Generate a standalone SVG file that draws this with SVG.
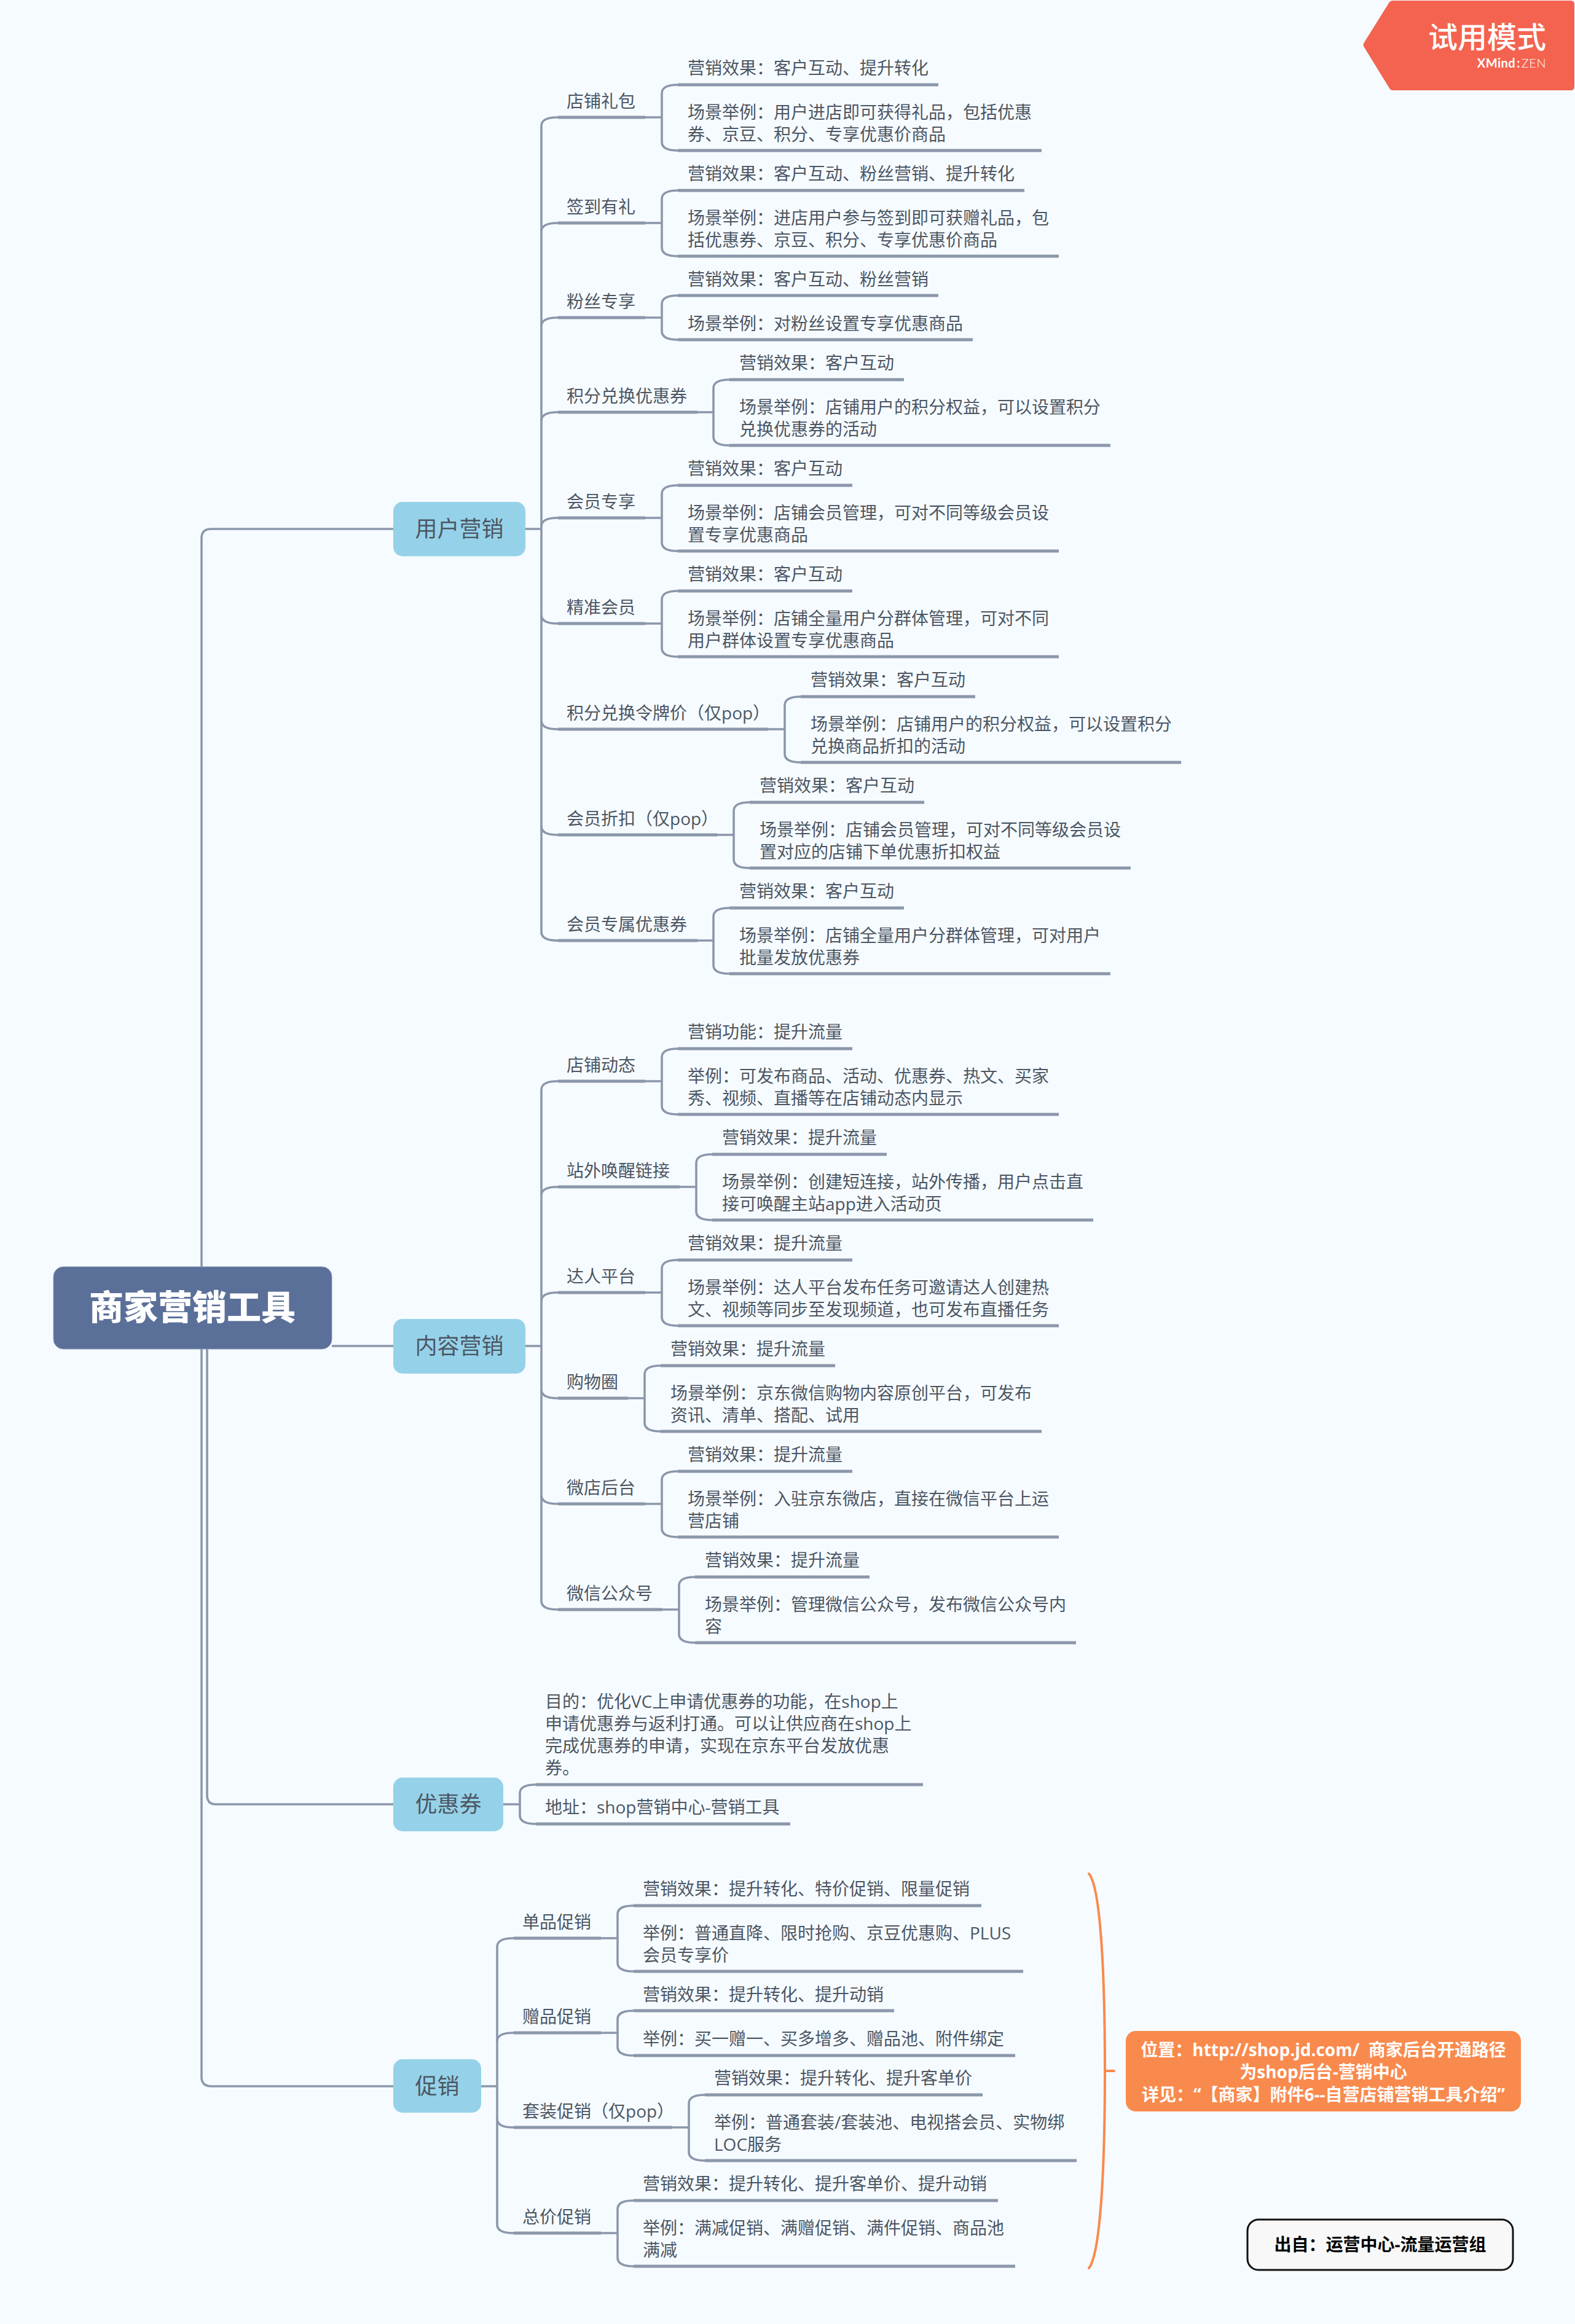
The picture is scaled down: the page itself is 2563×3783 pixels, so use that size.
<svg xmlns="http://www.w3.org/2000/svg" width="2563" height="3783" viewBox="0 0 2563 3783">
<style>
text{font-family:"Open Sans","Noto Sans CJK SC","Noto Sans",sans-serif;text-spacing-trim:space-all;white-space:pre}
.t{font-size:28px;fill:#4c5663}
.m{font-size:36px;fill:#4c5663;text-anchor:middle}
.b{fill:#95d2e9}
.c{fill:none;stroke:#8b97aa;stroke-width:3.6;stroke-linecap:butt}
.h{fill:none;stroke:#8b97aa;stroke-width:5;stroke-linecap:butt}
.w{font-size:28px;font-weight:700;fill:#fff;text-anchor:middle}
</style>
<rect width="2563" height="3783" fill="#f6fbff"/>
<g id="connectors">
<path class="c" d="M328,2062V876Q328,861 344,861H640"/>
<path class="c" d="M540,2191H640"/>
<path class="c" d="M337,2196V2922Q337,2937 351,2937H640"/>
<path class="c" d="M328,2196V3381Q328,3396 344,3396H640"/>
<path class="c" d="M855,861H881M855,2191H881M819,2937H846M783,3396H809"/>
<path class="c" d="M1077,191H907Q881,191 881,205V1517Q881,1531 907,1531H1161"/>
<path class="c" d="M881,377Q881,363 907,363H1077M881,531Q881,517 907,517H1077M881,685Q881,671 907,671H1161M881,857Q881,843 907,843H1077M881,1001Q881,1015 907,1015H1077M881,1173Q881,1187 907,1187H1277M881,1345Q881,1359 907,1359H1194"/>
<path class="c" d="M1527,138H1103Q1077,138 1077,152V231Q1077,245 1103,245H1695"/>
<path class="c" d="M1667,310H1103Q1077,310 1077,324V403Q1077,417 1103,417H1723"/>
<path class="c" d="M1527,481H1103Q1077,481 1077,495V539Q1077,553 1103,553H1583"/>
<path class="c" d="M1471,618H1187Q1161,618 1161,632V711Q1161,725 1187,725H1807"/>
<path class="c" d="M1387,790H1103Q1077,790 1077,804V883Q1077,897 1103,897H1723"/>
<path class="c" d="M1387,962H1103Q1077,962 1077,976V1055Q1077,1069 1103,1069H1723"/>
<path class="c" d="M1586,1134H1303Q1277,1134 1277,1148V1227Q1277,1241 1303,1241H1922"/>
<path class="c" d="M1504,1306H1220Q1194,1306 1194,1320V1399Q1194,1413 1220,1413H1840"/>
<path class="c" d="M1471,1478H1187Q1161,1478 1161,1492V1571Q1161,1585 1187,1585H1807"/>
<path class="c" d="M1077,1760H907Q881,1760 881,1774V2606Q881,2620 907,2620H1105"/>
<path class="c" d="M881,1946Q881,1932 907,1932H1133M881,2118Q881,2104 907,2104H1077M881,2262Q881,2276 907,2276H1049M881,2434Q881,2448 907,2448H1077"/>
<path class="c" d="M1387,1707H1103Q1077,1707 1077,1721V1800Q1077,1814 1103,1814H1723"/>
<path class="c" d="M1443,1879H1159Q1133,1879 1133,1893V1972Q1133,1986 1159,1986H1779"/>
<path class="c" d="M1387,2051H1103Q1077,2051 1077,2065V2144Q1077,2158 1103,2158H1723"/>
<path class="c" d="M1359,2223H1075Q1049,2223 1049,2237V2316Q1049,2330 1075,2330H1695"/>
<path class="c" d="M1387,2395H1103Q1077,2395 1077,2409V2488Q1077,2502 1103,2502H1723"/>
<path class="c" d="M1415,2567H1131Q1105,2567 1105,2581V2660Q1105,2674 1131,2674H1751"/>
<path class="c" d="M1502,2905H872Q846,2905 846,2919V2955Q846,2969 872,2969H1286"/>
<path class="c" d="M1005,3155H835Q809,3155 809,3169V3621Q809,3635 835,3635H1005"/>
<path class="c" d="M809,3323Q809,3309 835,3309H1005M809,3449Q809,3463 835,3463H1121"/>
<path class="c" d="M1597,3102H1031Q1005,3102 1005,3116V3195Q1005,3209 1031,3209H1665"/>
<path class="c" d="M1455,3273H1031Q1005,3273 1005,3287V3332Q1005,3346 1031,3346H1652"/>
<path class="c" d="M1599,3410H1147Q1121,3410 1121,3424V3503Q1121,3517 1147,3517H1752"/>
<path class="c" d="M1624,3582H1031Q1005,3582 1005,3596V3675Q1005,3689 1031,3689H1652"/>
<path class="h" d="M908,191H1050M908,363H1050M908,517H1050M908,671H1135M908,843H1050M908,1015H1050M908,1187H1250M908,1359H1167M908,1531H1135M908,1760H1050M908,1932H1106M908,2104H1050M908,2276H1022M908,2448H1050M908,2620H1078M836,3155H978M836,3309H978M836,3463H1094M836,3635H978"/>
<path class="h" d="M1103,138H1527M1103,245H1695M1103,310H1667M1103,417H1723M1103,481H1527M1103,553H1583M1187,618H1471M1187,725H1807M1103,790H1387M1103,897H1723M1103,962H1387M1103,1069H1723M1303,1134H1587M1303,1241H1922M1220,1306H1504M1220,1413H1840M1187,1478H1471M1187,1585H1807"/>
<path class="h" d="M1103,1707H1387M1103,1814H1723M1159,1879H1443M1159,1986H1779M1103,2051H1387M1103,2158H1723M1075,2223H1359M1075,2330H1695M1103,2395H1387M1103,2502H1723M1131,2567H1415M1131,2674H1751"/>
<path class="h" d="M872,2905H1502M872,2969H1286M1031,3102H1597M1031,3209H1665M1031,3273H1455M1031,3346H1652M1147,3410H1599M1147,3517H1752M1031,3582H1624M1031,3689H1652"/>
<path d="M1772,3050C1790,3070 1798,3200 1798,3371C1798,3540 1790,3670 1772,3692M1798,3371H1813" fill="none" stroke="#f98a4d" stroke-width="4" stroke-linecap="round"/>
</g>
<g id="badge">
<path d="M2267,1H2556Q2562,1 2562,7V141Q2562,147 2556,147H2267Q2262,147 2260,142L2220,77Q2217,73 2220,69L2260,5Q2262,1 2267,1Z" fill="#f4634f"/>
<text x="2516" y="78" font-size="48" font-weight="500" fill="#fff" text-anchor="end">试用模式</text>
<text x="2516" y="110" font-size="20" fill="#fff" text-anchor="end" style="font-family:Lato,sans-serif;letter-spacing:.5px"><tspan font-weight="700">XMind</tspan><tspan font-weight="700" dx="2">:</tspan><tspan font-weight="300" dx="2">ZEN</tspan></text>
</g>
<g id="root">
<rect x="87" y="2062" width="453" height="134" rx="16" fill="#5b7098" stroke="#8c9bb8" stroke-width="1"/>
<text x="313" y="2148" font-size="56" font-weight="900" fill="#fff" text-anchor="middle">商家营销工具</text>
</g>
<g id="n-user"><rect class="b" x="640" y="817" width="215" height="88.500" rx="15"/><text class="m" x="747.5" y="874">用户营销</text></g>
<g id="n-content"><rect class="b" x="640" y="2147" width="215" height="89" rx="15"/><text class="m" x="747.5" y="2204">内容营销</text></g>
<g id="n-coupon"><rect class="b" x="640" y="2893.500" width="179" height="87.500" rx="15"/><text class="m" x="729.5" y="2950">优惠券</text></g>
<g id="n-promo"><rect class="b" x="640" y="3352" width="143" height="87" rx="15"/><text class="m" x="711.5" y="3409">促销</text></g>
<g id="topics" transform="translate(-1 0)">
<g id="u1"><text class="t" x="923" y="175">店铺礼包</text><text class="t" x="1120" y="121">营销效果：客户互动、提升转化</text><text class="t" x="1120" y="193">场景举例：用户进店即可获得礼品，包括优惠</text><text class="t" x="1120" y="229">券、京豆、积分、专享优惠价商品</text></g>
<g id="u2"><text class="t" x="923" y="347">签到有礼</text><text class="t" x="1120" y="293">营销效果：客户互动、粉丝营销、提升转化</text><text class="t" x="1120" y="365">场景举例：进店用户参与签到即可获赠礼品，包</text><text class="t" x="1120" y="401">括优惠券、京豆、积分、专享优惠价商品</text></g>
<g id="u3"><text class="t" x="923" y="501">粉丝专享</text><text class="t" x="1120" y="465">营销效果：客户互动、粉丝营销</text><text class="t" x="1120" y="537">场景举例：对粉丝设置专享优惠商品</text></g>
<g id="u4"><text class="t" x="923" y="655">积分兑换优惠券</text><text class="t" x="1204" y="601">营销效果：客户互动</text><text class="t" x="1204" y="673">场景举例：店铺用户的积分权益，可以设置积分</text><text class="t" x="1204" y="709">兑换优惠券的活动</text></g>
<g id="u5"><text class="t" x="923" y="827">会员专享</text><text class="t" x="1120" y="773">营销效果：客户互动</text><text class="t" x="1120" y="845">场景举例：店铺会员管理，可对不同等级会员设</text><text class="t" x="1120" y="881">置专享优惠商品</text></g>
<g id="u6"><text class="t" x="923" y="999">精准会员</text><text class="t" x="1120" y="945">营销效果：客户互动</text><text class="t" x="1120" y="1017">场景举例：店铺全量用户分群体管理，可对不同</text><text class="t" x="1120" y="1053">用户群体设置专享优惠商品</text></g>
<g id="u7"><text class="t" x="923" y="1171">积分兑换令牌价（仅pop）</text><text class="t" x="1320" y="1117">营销效果：客户互动</text><text class="t" x="1320" y="1189">场景举例：店铺用户的积分权益，可以设置积分</text><text class="t" x="1320" y="1225">兑换商品折扣的活动</text></g>
<g id="u8"><text class="t" x="923" y="1343">会员折扣（仅pop）</text><text class="t" x="1237" y="1289">营销效果：客户互动</text><text class="t" x="1237" y="1361">场景举例：店铺会员管理，可对不同等级会员设</text><text class="t" x="1237" y="1397">置对应的店铺下单优惠折扣权益</text></g>
<g id="u9"><text class="t" x="923" y="1515">会员专属优惠券</text><text class="t" x="1204" y="1461">营销效果：客户互动</text><text class="t" x="1204" y="1533">场景举例：店铺全量用户分群体管理，可对用户</text><text class="t" x="1204" y="1569">批量发放优惠券</text></g>
<g id="c1"><text class="t" x="923" y="1744">店铺动态</text><text class="t" x="1120" y="1690">营销功能：提升流量</text><text class="t" x="1120" y="1762">举例：可发布商品、活动、优惠券、热文、买家</text><text class="t" x="1120" y="1798">秀、视频、直播等在店铺动态内显示</text></g>
<g id="c2"><text class="t" x="923" y="1916">站外唤醒链接</text><text class="t" x="1176" y="1862">营销效果：提升流量</text><text class="t" x="1176" y="1934">场景举例：创建短连接，站外传播，用户点击直</text><text class="t" x="1176" y="1970">接可唤醒主站app进入活动页</text></g>
<g id="c3"><text class="t" x="923" y="2088">达人平台</text><text class="t" x="1120" y="2034">营销效果：提升流量</text><text class="t" x="1120" y="2106">场景举例：达人平台发布任务可邀请达人创建热</text><text class="t" x="1120" y="2142">文、视频等同步至发现频道，也可发布直播任务</text></g>
<g id="c4"><text class="t" x="923" y="2260">购物圈</text><text class="t" x="1092" y="2206">营销效果：提升流量</text><text class="t" x="1092" y="2278">场景举例：京东微信购物内容原创平台，可发布</text><text class="t" x="1092" y="2314">资讯、清单、搭配、试用</text></g>
<g id="c5"><text class="t" x="923" y="2432">微店后台</text><text class="t" x="1120" y="2378">营销效果：提升流量</text><text class="t" x="1120" y="2450">场景举例：入驻京东微店，直接在微信平台上运</text><text class="t" x="1120" y="2486">营店铺</text></g>
<g id="c6"><text class="t" x="923" y="2604">微信公众号</text><text class="t" x="1148" y="2550">营销效果：提升流量</text><text class="t" x="1148" y="2622">场景举例：管理微信公众号，发布微信公众号内</text><text class="t" x="1148" y="2658">容</text></g>
<g id="k1"><text class="t" x="888" y="2780">目的：优化VC上申请优惠券的功能，在shop上</text><text class="t" x="888" y="2816">申请优惠券与返利打通。可以让供应商在shop上</text><text class="t" x="888" y="2852">完成优惠券的申请，实现在京东平台发放优惠</text><text class="t" x="888" y="2888">券。</text></g>
<g id="k2"><text class="t" x="888" y="2952">地址：shop营销中心-营销工具</text></g>
<g id="p1"><text class="t" x="851" y="3139">单品促销</text><text class="t" x="1047" y="3085">营销效果：提升转化、特价促销、限量促销</text><text class="t" x="1047" y="3157">举例：普通直降、限时抢购、京豆优惠购、PLUS</text><text class="t" x="1047" y="3193">会员专享价</text></g>
<g id="p2"><text class="t" x="851" y="3293">赠品促销</text><text class="t" x="1047" y="3257">营销效果：提升转化、提升动销</text><text class="t" x="1047" y="3329">举例：买一赠一、买多增多、赠品池、附件绑定</text></g>
<g id="p3"><text class="t" x="851" y="3447">套装促销（仅pop）</text><text class="t" x="1163" y="3393">营销效果：提升转化、提升客单价</text><text class="t" x="1163" y="3465">举例：普通套装/套装池、电视搭会员、实物绑</text><text class="t" x="1163" y="3501">LOC服务</text></g>
<g id="p4"><text class="t" x="851" y="3619">总价促销</text><text class="t" x="1047" y="3565">营销效果：提升转化、提升客单价、提升动销</text><text class="t" x="1047" y="3637">举例：满减促销、满赠促销、满件促销、商品池</text><text class="t" x="1047" y="3673">满减</text></g>
</g>
<g id="callout"><rect x="1832" y="3306" width="643" height="131" rx="16" fill="#f98a4d"/><text class="w" x="2153.5" y="3347">位置：http://shop.jd.com/  商家后台开通路径</text><text class="w" x="2153.5" y="3383">为shop后台-营销中心</text><text class="w" x="2153.5" y="3420">详见：“【商家】附件6--自营店铺营销工具介绍”</text></g>
<g id="source"><rect x="2030" y="3613" width="432" height="82" rx="18" fill="#f8f8f8" stroke="#111" stroke-width="3"/><text x="2246" y="3664" font-size="28" font-weight="700" fill="#000" text-anchor="middle">出自：运营中心-流量运营组</text></g>
</svg>
